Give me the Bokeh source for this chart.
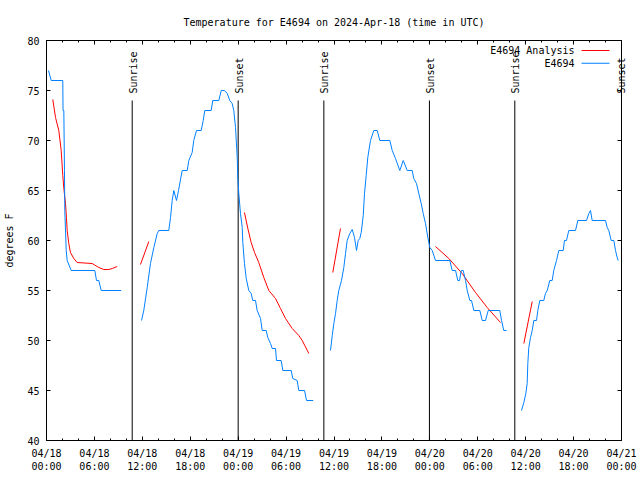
import math
from bokeh.plotting import figure
from bokeh.models import (LinearAxis, FixedTicker, Range1d, Label, BoxAnnotation, Title,
                          ColumnDataSource)
from bokeh.embed import file_html
from bokeh.resources import INLINE

FONT = "DejaVu Sans Mono"

# ---- data: hours since 2024-04-18 00:00 UTC, temperature in deg F ----
obs_h_1 = [0.25, 0.59, 2.04, 2.07, 2.17, 2.25, 2.29, 2.47, 2.59, 3.09, 6.05, 6.26, 6.55, 6.85, 9.35]
obs_t_1 = [77, 76, 76, 73, 73, 67, 63, 59, 58, 57, 57, 56, 56, 55, 55]

obs_h_2 = [11.90, 12.18, 12.61, 13.02, 13.44, 13.86, 14.06, 15.31, 15.53, 15.74, 15.94, 16.28, 16.53,
           16.99, 17.62, 17.82, 18.24, 18.44, 18.78, 19.37, 19.62, 19.82, 20.62, 20.82, 21.58, 21.88,
           22.29, 22.63, 22.95, 23.25, 23.45, 23.67, 23.88, 23.95, 24.08, 24.29, 24.51, 24.58, 24.79,
           25.01, 25.33, 25.63, 25.83, 26.17, 26.38, 26.80, 27.01, 27.51, 27.71, 28.05, 28.26, 28.68,
           28.80, 29.39, 29.59, 30.64, 30.84, 31.39, 31.59, 32.31, 32.56, 33.40]
obs_t_2 = [52, 53, 55.3, 57.7, 59.3, 60.7, 61, 61, 62.3, 64, 65, 64, 65,
           67, 67, 68, 68.8, 70, 71, 71, 72, 73, 73, 74, 74, 75,
           75, 74.7, 74, 73.7, 73, 71.3, 68.3, 66.3, 64.7, 62.7, 61.3, 59.8, 57.7,
           56.2, 55, 54.7, 54, 54, 53, 52.2, 51, 51, 50.3, 49.7, 49.2, 49.2,
           48, 48, 47, 47, 46.2, 46, 45, 45, 44, 44]

obs_h_3 = [35.56, 35.78, 35.98, 36.19, 36.40, 36.60, 36.94, 37.23, 37.44, 37.65, 37.98, 38.28, 38.57,
           38.82, 39.03, 39.23, 39.41, 39.66, 39.82, 40.03, 40.23, 40.57, 40.98, 41.41, 41.74, 42.99,
           43.29, 43.70, 44.24, 44.67, 45.17, 45.79, 45.99, 46.33, 46.62, 46.92, 47.17, 47.46, 47.75,
           48.00, 48.30, 48.71, 50.50, 50.80, 51.22, 51.50, 51.72, 51.93, 52.18, 52.47, 52.68, 53.01,
           53.22, 53.51, 54.26, 54.56, 54.97, 55.31, 56.76, 56.98, 57.26, 57.60]
obs_t_3 = [49, 50.5, 51.7, 52.7, 54, 55, 56, 57.3, 58.7, 60, 60.7, 61.1, 60.3,
           59, 60, 60.2, 60.8, 62.5, 64.7, 66.5, 68.3, 70, 71, 71, 70, 70,
           69, 68.2, 67, 68, 67, 67, 66.2, 65.7, 64.7, 63.7, 62.7, 61.7, 60.3,
           59.3, 59, 58, 58, 57, 57, 56, 56, 57, 57, 56, 55, 54,
           54, 53, 53, 52, 52, 53, 53, 52, 51, 51]

obs_h_4 = [59.48, 59.77, 60.02, 60.19, 60.27, 60.39, 60.61, 60.82, 61.02, 61.36, 61.52, 61.77, 62.27,
           62.48, 62.70, 63.02, 63.32, 63.52, 63.86, 64.15, 64.70, 64.86, 65.11, 65.40, 66.24, 66.53,
           67.62, 67.91, 68.12, 68.33, 70.00, 70.21, 70.41, 70.71, 71.04, 71.25, 71.46, 71.59]
obs_t_4 = [43, 43.8, 44.7, 45.7, 47.7, 49.3, 50.3, 51, 52, 52, 53, 54, 54,
           54.7, 55, 56, 56, 57, 58, 59, 59, 60, 60, 61, 61, 62,
           62, 62.7, 63, 62, 62, 61.3, 61, 60, 60, 59, 58.3, 58]

ana_h_1 = [0.79, 1.13, 1.54, 1.84, 2.04, 2.17, 2.38, 2.50, 2.59, 2.79, 3.00, 3.42, 3.84, 5.72, 6.55,
           7.18, 7.80, 8.23, 8.85]
ana_t_1 = [74.1, 72.3, 71, 69, 66.5, 65.2, 63.7, 62.3, 61, 59.7, 58.8, 58.2, 57.8, 57.7, 57.3,
           57.1, 57.1, 57.2, 57.4]
ana_h_2 = [11.77, 12.81]
ana_t_2 = [57.6, 59.9]
ana_h_3 = [24.79, 25.21, 25.63, 26.05, 26.58, 27.21, 27.84, 28.68, 29.30, 29.93, 30.77, 31.59, 32.02, 32.85]
ana_t_3 = [62.8, 61.2, 59.8, 58.8, 57.8, 56.3, 55, 54.2, 53.2, 52.2, 51.2, 50.5, 50, 48.7]
ana_h_4 = [35.85, 36.81]
ana_t_4 = [56.8, 61.2]
ana_h_5 = [48.71, 50.38, 52.05, 53.72, 55.18, 56.85]
ana_t_5 = [59.4, 58.2, 56.7, 54.8, 53.3, 51.8]
ana_h_6 = [59.77, 60.82]
ana_t_6 = [49.7, 53.9]

sun_hours = [10.73, 24.0, 34.73, 47.95, 58.64, 72.0]
sun_labels = ["Sunrise", "Sunset", "Sunrise", "Sunset", "Sunrise", "Sunset"]
sun_line_top = 74.0

x_tick_hours = [0, 6, 12, 18, 24, 30, 36, 42, 48, 54, 60, 66, 72]
x_tick_labels = ["04/18\n00:00", "04/18\n06:00", "04/18\n12:00", "04/18\n18:00",
                 "04/19\n00:00", "04/19\n06:00", "04/19\n12:00", "04/19\n18:00",
                 "04/20\n00:00", "04/20\n06:00", "04/20\n12:00", "04/20\n18:00",
                 "04/21\n00:00"]
x_minor_hours = list(range(0, 73, 2))
y_ticks = [40, 45, 50, 55, 60, 65, 70, 75, 80]

title_text = "Temperature for E4694 on 2024-Apr-18 (time in UTC)"
series_names = ["E4694 Analysis", "E4694"]
series_colors = ["#ff0000", "#0080ff"]

# ---- figure ----
p = figure(width=640, height=480, x_range=Range1d(0, 72), y_range=Range1d(40, 80),
           output_backend="svg", toolbar_location=None, x_axis_location=None, y_axis_location=None,
           min_border_left=46, min_border_right=19, min_border_top=40, min_border_bottom=40)
p.grid.visible = False
p.outline_line_color = "black"
p.outline_line_width = 1
p.background_fill_color = "white"
p.border_fill_color = "white"

p.title = Title(text=title_text, align="center", text_font=FONT, text_font_size="10px",
                text_font_style="normal", text_color="black", standoff=25)

def style_axis(ax, show_labels):
    ax.axis_line_color = "black"
    ax.major_tick_in = 4
    ax.major_tick_out = 0
    ax.minor_tick_in = 2
    ax.minor_tick_out = 0
    ax.major_tick_line_color = "black"
    ax.minor_tick_line_color = "black"
    ax.major_label_text_font = FONT
    if show_labels:
        ax.major_label_text_font_size = "10px"
        ax.major_label_text_color = "black"
    else:
        ax.major_label_text_font_size = "1px"
        ax.major_label_text_color = None
        ax.major_label_standoff = 0

xb = LinearAxis(ticker=FixedTicker(ticks=x_tick_hours, minor_ticks=x_minor_hours))
style_axis(xb, True)
xb.major_label_overrides = {float(h): lab for h, lab in zip(x_tick_hours, x_tick_labels)}
xb.major_label_standoff = 7
p.add_layout(xb, "below")

xt = LinearAxis(ticker=FixedTicker(ticks=x_tick_hours, minor_ticks=x_minor_hours))
style_axis(xt, False)
p.add_layout(xt, "above")

yl = LinearAxis(ticker=FixedTicker(ticks=y_ticks, minor_ticks=[]), axis_label="degrees F")
style_axis(yl, True)
yl.major_label_standoff = 7
yl.axis_label_text_font = FONT
yl.axis_label_text_font_size = "10px"
yl.axis_label_text_font_style = "normal"
yl.axis_label_text_color = "black"
yl.axis_label_standoff = 9
p.add_layout(yl, "left")

yr = LinearAxis(ticker=FixedTicker(ticks=y_ticks, minor_ticks=[]))
style_axis(yr, False)
p.add_layout(yr, "right")

# sunrise / sunset markers
sun_src = ColumnDataSource(dict(h=sun_hours, top=[sun_line_top] * len(sun_hours),
                                bottom=[40] * len(sun_hours)))
p.segment(x0="h", y0="bottom", x1="h", y1="top", source=sun_src, line_color="black", line_width=1)
for h, lab in zip(sun_hours[:-1], sun_labels[:-1]):
    p.add_layout(Label(x=h, y=sun_line_top, text=lab, angle=math.pi / 2,
                       text_align="left", text_baseline="middle", x_offset=1, y_offset=7,
                       text_font=FONT, text_font_size="10px", text_color="black"))

# the last marker sits on the right border: draw its label through an extra (unclipped) right axis
edge_label_y = sun_line_top + 0.7
edge_ax = LinearAxis(ticker=FixedTicker(ticks=[edge_label_y], minor_ticks=[]))
edge_ax.major_label_overrides = {edge_label_y: sun_labels[-1]}
edge_ax.major_label_orientation = math.pi / 2
edge_ax.axis_line_color = None
edge_ax.major_tick_line_color = None
edge_ax.minor_tick_line_color = None
edge_ax.major_tick_in = 0
edge_ax.major_tick_out = 0
edge_ax.minor_tick_in = 0
edge_ax.minor_tick_out = 0
edge_ax.major_label_standoff = 0
edge_ax.major_label_text_font = FONT
edge_ax.major_label_text_font_size = "10px"
edge_ax.major_label_text_color = "black"
p.add_layout(edge_ax, "right")

ana_xs = [ana_h_1, ana_h_2, ana_h_3, ana_h_4, ana_h_5, ana_h_6]
ana_ys = [ana_t_1, ana_t_2, ana_t_3, ana_t_4, ana_t_5, ana_t_6]
obs_xs = [obs_h_1, obs_h_2, obs_h_3, obs_h_4]
obs_ys = [obs_t_1, obs_t_2, obs_t_3, obs_t_4]
p.multi_line(xs=ana_xs, ys=ana_ys, line_color=series_colors[0], line_width=1)
p.multi_line(xs=obs_xs, ys=obs_ys, line_color=series_colors[1], line_width=1)

# legend (text on the left, line sample on the right), frame-relative screen units
for i, (name, col) in enumerate(zip(series_names, series_colors)):
    yy = 390 - i * 12.7
    p.add_layout(Label(x=528, y=yy, x_units="screen", y_units="screen", text=name,
                       text_align="right", text_baseline="middle", text_font=FONT,
                       text_font_size="10px", text_color="black"))
    p.add_layout(BoxAnnotation(left=535, right=563, bottom=yy - 0.5, top=yy + 0.5,
                               left_units="screen", right_units="screen",
                               bottom_units="screen", top_units="screen",
                               fill_color=col, fill_alpha=1.0, line_alpha=0))

open("out.html", "w").write(file_html(p, INLINE))
